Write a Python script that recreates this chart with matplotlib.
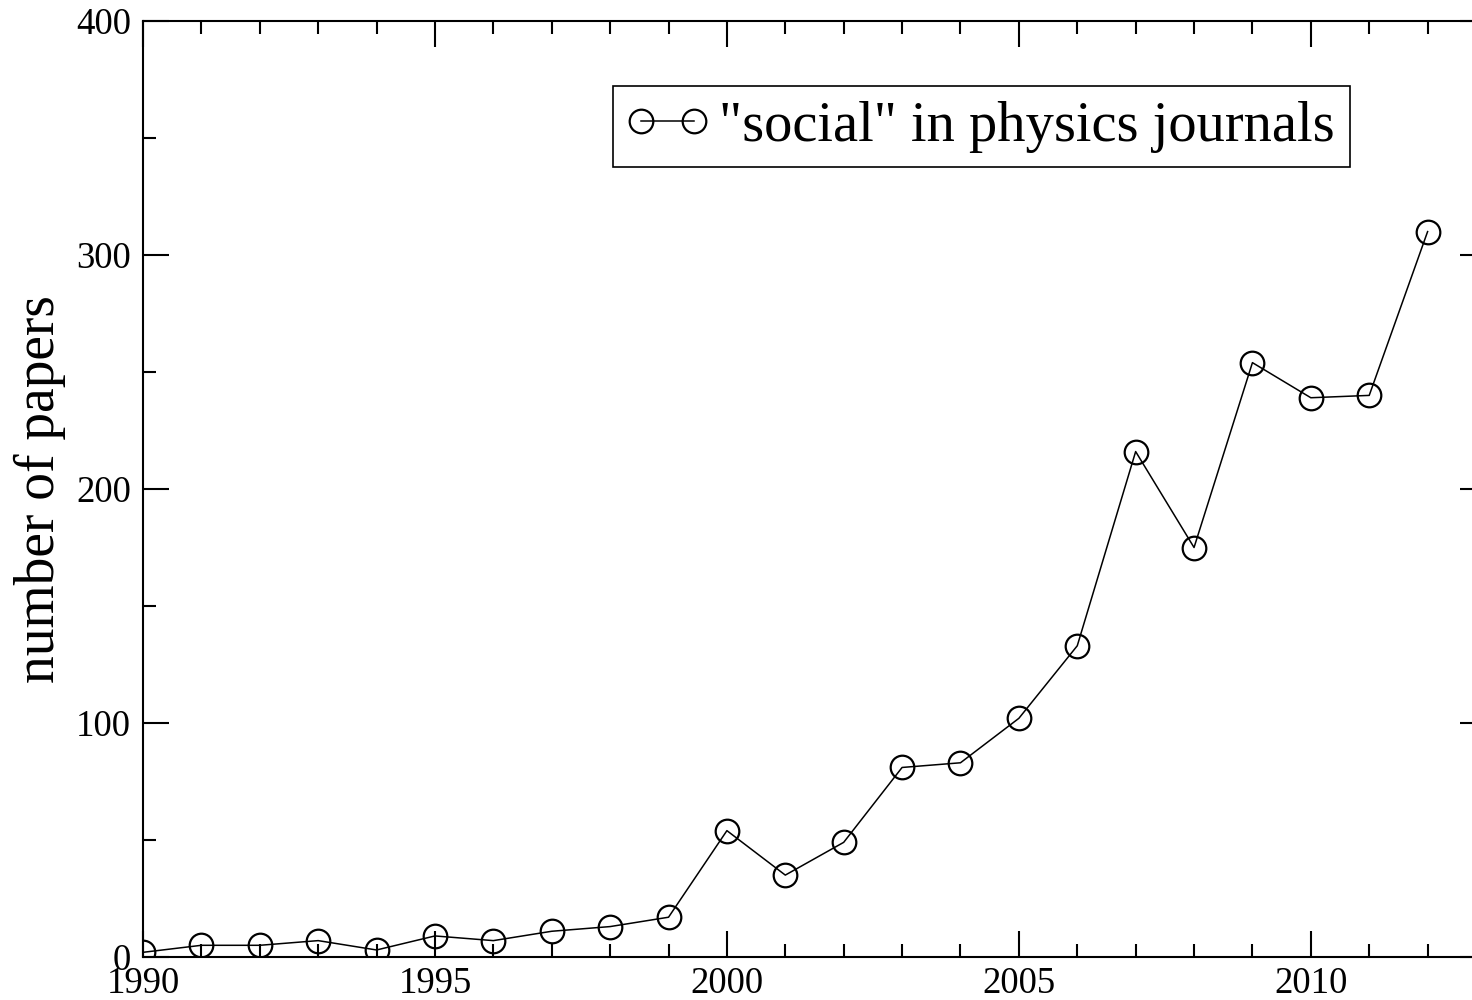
import matplotlib
matplotlib.use("Agg")
import matplotlib.pyplot as plt
from matplotlib.legend_handler import HandlerLine2D
from matplotlib.ticker import MultipleLocator

years = list(range(1990, 2013))
papers = [2, 5, 5, 7, 3, 9, 7, 11, 13, 17, 54, 35, 49, 81, 83, 102, 133, 216, 175, 254, 239, 240, 310]

plt.rcParams["font.family"] = ["Liberation Serif", "DejaVu Serif"]

fig = plt.figure(figsize=(14.72, 10), dpi=100)
# axes run past the right edge of the figure, as in the reference
ax = fig.add_axes([143 / 1472, 43 / 1000, (1486 - 143) / 1472, (979 - 43) / 1000])

line, = ax.plot(years, papers, color="black", linewidth=1.1, marker="o", markersize=17,
                markerfacecolor="none", markeredgecolor="black", markeredgewidth=1.6,
                label='"social" in physics journals')

ax.set_xlim(1990, 2013)
ax.set_ylim(0, 400)
ax.xaxis.set_major_locator(MultipleLocator(5))
ax.xaxis.set_minor_locator(MultipleLocator(1))
ax.yaxis.set_major_locator(MultipleLocator(100))
ax.yaxis.set_minor_locator(MultipleLocator(50))

for side in ax.spines.values():
    side.set_linewidth(1.5)
ax.tick_params(which="both", direction="in", top=True, right=True, width=1.5,
               labelsize=26.5, colors="black")
ax.tick_params(which="major", length=19)
ax.tick_params(which="minor", length=9.5)
ax.tick_params(axis="y", pad=8.5)
ax.tick_params(axis="x", pad=7)

ax.set_ylabel("number of papers", fontsize=40)
ax.yaxis.set_label_coords(-0.057, 0.5)

leg = ax.legend(loc="upper left", bbox_to_anchor=(613 / 1472, 1 - 86 / 1000),
                bbox_transform=fig.transFigure, borderaxespad=0, fontsize=40.7,
                handler_map={line: HandlerLine2D(marker_pad=0.23, numpoints=2)},
                handlelength=1.4, handletextpad=0.22,
                fancybox=False, framealpha=1, edgecolor="black",
                borderpad=0.26)
leg.get_frame().set_linewidth(1.2)

fig.savefig("out.png", dpi=100)
